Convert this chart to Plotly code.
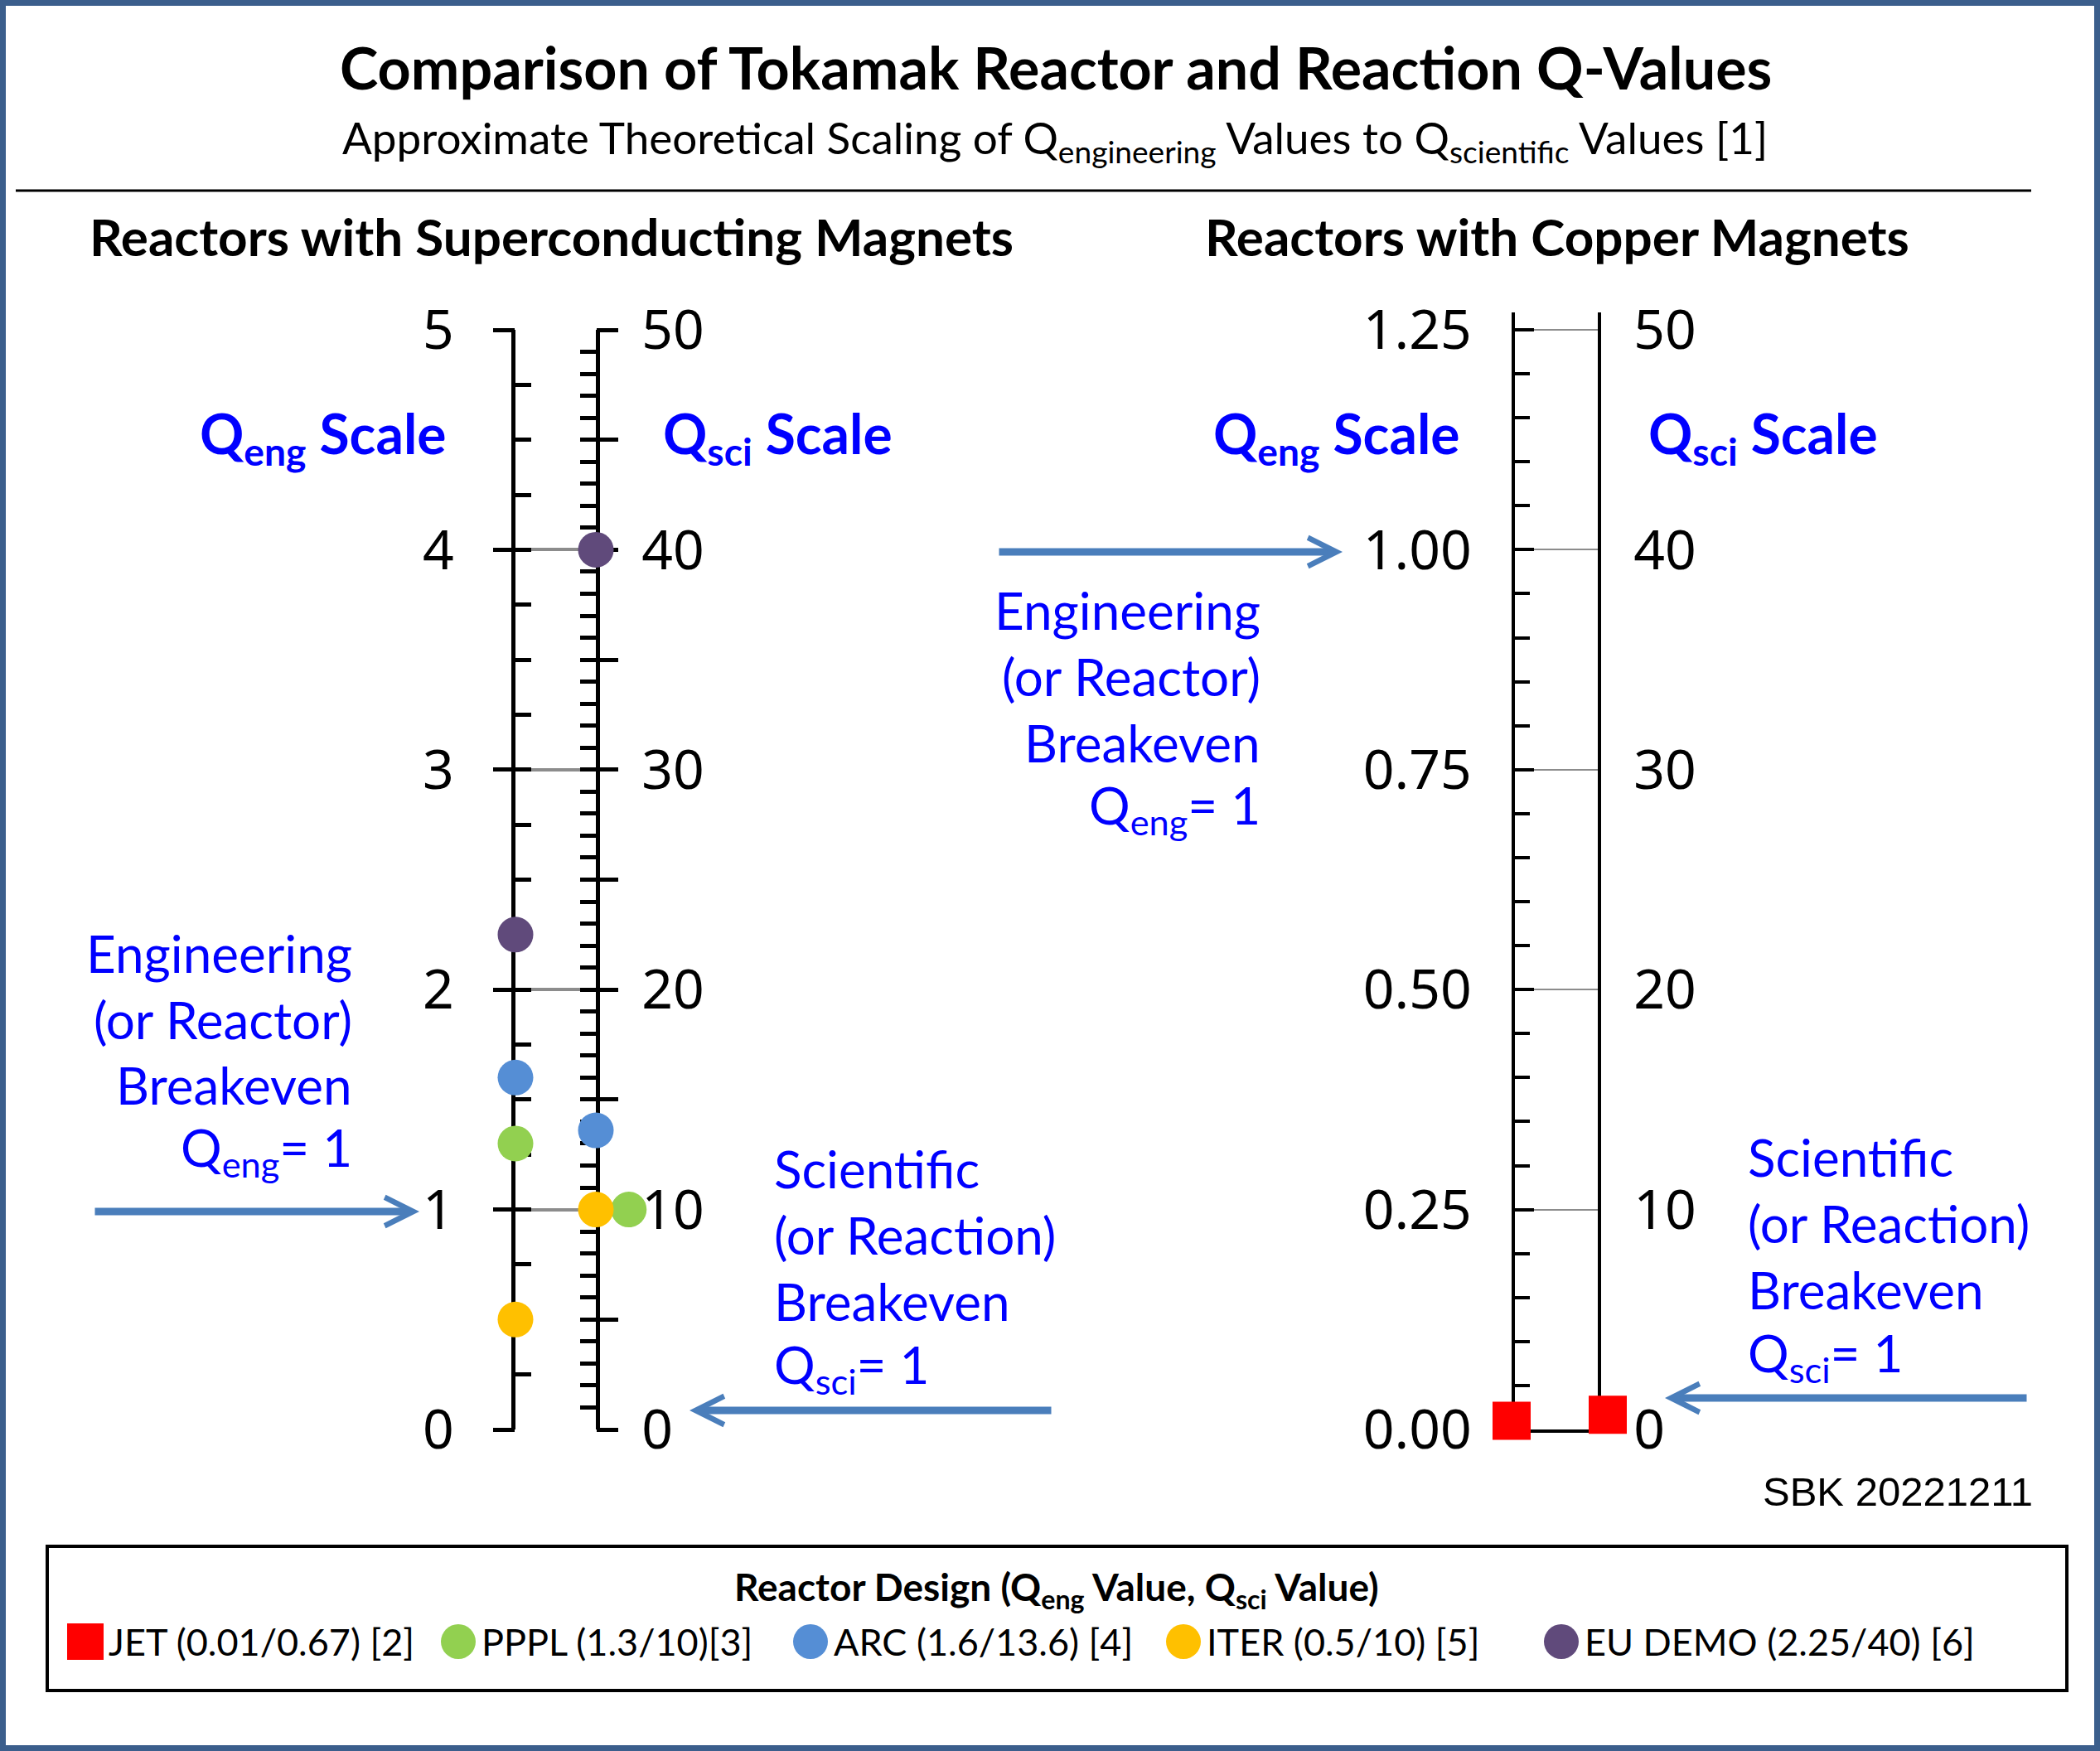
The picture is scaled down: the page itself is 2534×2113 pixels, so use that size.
import plotly.graph_objects as go

W, H = 2534, 2113

# ------------------------------------------------------------------ data
reactors = ["JET", "PPPL", "ARC", "ITER", "EU DEMO"]
q_eng = [0.01, 1.3, 1.6, 0.5, 2.25]
q_sci = [0.67, 10, 13.6, 10, 40]
magnet_type = ["copper", "superconducting", "superconducting", "superconducting", "superconducting"]
legend_labels = ["JET (0.01/0.67) [2]", "PPPL (1.3/10)[3]", "ARC (1.6/13.6) [4]",
                 "ITER (0.5/10) [5]", "EU DEMO (2.25/40) [6]"]

sc_eng_ticks = [0, 1, 2, 3, 4, 5]
sc_eng_labels = ["0", "1", "2", "3", "4", "5"]
sc_sci_ticks = [0, 10, 20, 30, 40, 50]
sc_sci_labels = ["0", "10", "20", "30", "40", "50"]
cu_eng_ticks = [0, 0.25, 0.5, 0.75, 1.0, 1.25]
cu_eng_labels = ["0.00", "0.25", "0.50", "0.75", "1.00", "1.25"]
cu_sci_ticks = [0, 10, 20, 30, 40, 50]
cu_sci_labels = ["0", "10", "20", "30", "40", "50"]

# ------------------------------------------------------------------ style / layout
COLORS = {"JET": "#FF0000", "PPPL": "#92D050", "ARC": "#558ED5",
          "ITER": "#FFC000", "EU DEMO": "#604A7B"}
SYMBOLS = {"JET": "square"}
NUDGE_ENG = {"JET": -0.04}
NUDGE_SCI = {"JET": 0.12, "PPPL": 0.41}
BLUE = "#0000FF"
ARROW = "#4A7EBB"
FONT = "Lato"
TICKFONT = "Noto Sans"
GRID = "#8C8C8C"
CIRCLE_SIZE, SQUARE_SIZE = 43, 46

# ruler geometry in pixels
SC_L, SC_R = 622, 719       # superconducting ruler: left / right spine
CU_L, CU_R = 1828, 1928     # copper ruler
Y_ZERO, Y_TOP_TICK = 1725, 398
CU_TOP = 1.27               # copper axis runs a little above 1.25


def px(x):
    return x / W


def py(y):
    return 1 - y / H


sc_dom = [py(Y_ZERO), py(Y_TOP_TICK)]
cu_top_px = Y_ZERO - (Y_ZERO - Y_TOP_TICK) * CU_TOP / cu_eng_ticks[-1]
cu_dom = [py(Y_ZERO), py(cu_top_px)]
sc_ratio = sc_sci_ticks[-1] / sc_eng_ticks[-1]
cu_ratio = cu_sci_ticks[-1] / cu_eng_ticks[-1]


def marker_xrange(dom_l, dom_r, spine_l, spine_r):
    w = spine_r - spine_l
    return [(dom_l - spine_l) / w, (dom_r - spine_l) / w]


SC_MDOM = (540, 820)
CU_MDOM = (1760, 2010)

fig = go.Figure()

# ------------------------------------------------------------------ data marks
for i, name in enumerate(reactors):
    if magnet_type[i] == "superconducting":
        xa, ya_e, ya_s = "x4", "y8", "y9"
    else:
        xa, ya_e, ya_s = "x5", "y10", "y11"
    sym = SYMBOLS.get(name, "circle")
    size = SQUARE_SIZE if sym == "square" else CIRCLE_SIZE
    mk = dict(color=COLORS[name], size=size, symbol=sym, opacity=1, line=dict(width=0))
    fig.add_trace(go.Scatter(
        x=[0 + NUDGE_ENG.get(name, 0)], y=[q_eng[i]], xaxis=xa, yaxis=ya_e,
        mode="markers", name=name, showlegend=False, cliponaxis=False, marker=mk))
    fig.add_trace(go.Scatter(
        x=[1 + NUDGE_SCI.get(name, 0)], y=[q_sci[i]], xaxis=xa, yaxis=ya_s,
        mode="markers", name=name, showlegend=False, cliponaxis=False, marker=mk))

# empty traces so that the ruler axes get their subplots
for xa, ya in [("x", "y"), ("x", "y2"), ("x", "y3"), ("x", "y4"), ("x2", "y5"), ("x2", "y6")]:
    fig.add_trace(go.Scatter(x=[None], y=[None], xaxis=xa, yaxis=ya, showlegend=False))

# custom legend keys (drawn on a pixel-space helper axis)
LEG_KEY_X = [103, 553, 978, 1428, 1884]
LEG_Y = 1981
fig.add_trace(go.Scatter(
    x=LEG_KEY_X, y=[LEG_Y] * len(reactors), xaxis="x3", yaxis="y7",
    mode="markers", showlegend=False,
    marker=dict(color=[COLORS[n] for n in reactors],
                symbol=[SYMBOLS.get(n, "circle") for n in reactors],
                size=[44 if SYMBOLS.get(n) == "square" else 42 for n in reactors],
                opacity=1, line=dict(width=0))))

tickfont = dict(family=TICKFONT, size=66, color="black")
off = dict(showgrid=False, zeroline=False, fixedrange=True, automargin=False)
hidden = dict(visible=False, **off)

fig.update_layout(
    template="none",
    width=W, height=H, autosize=False,
    margin=dict(l=0, r=0, t=0, b=0, pad=0, autoexpand=False),
    paper_bgcolor="white", plot_bgcolor="rgba(0,0,0,0)",
    showlegend=False, hovermode=False,
    # ---------------- superconducting ruler
    xaxis=dict(domain=[px(SC_L), px(SC_R)], range=[0, 1], anchor="y", **hidden),
    yaxis=dict(domain=sc_dom, range=[0, sc_eng_ticks[-1]], anchor="x", side="left",
               showline=True, linecolor="black", linewidth=5,
               tickmode="array", tickvals=sc_eng_ticks, ticktext=sc_eng_labels,
               ticks="inside", ticklen=19, tickwidth=5, tickcolor="black",
               tickfont=tickfont, ticklabelstandoff=56,
               showgrid=True, gridcolor=GRID, gridwidth=4, zeroline=False,
               minor=dict(tick0=0, dtick=0.25, ticks="inside", ticklen=19, tickwidth=5,
                          tickcolor="black", showgrid=False),
               layer="below traces", fixedrange=True, automargin=False),
    yaxis3=dict(overlaying="y", anchor="x", side="left", range=[0, sc_eng_ticks[-1]],
                tickmode="array", tickvals=sc_eng_ticks, ticks="outside", ticklen=26,
                tickwidth=5, tickcolor="black", showticklabels=False, showline=False,
                layer="below traces", **off),
    yaxis2=dict(overlaying="y", anchor="x", side="right", range=[0, sc_eng_ticks[-1] * sc_ratio],
                showline=True, linecolor="black", linewidth=5,
                tickmode="array", tickvals=sc_sci_ticks, ticktext=sc_sci_labels,
                ticks="inside", ticklen=19, tickwidth=5, tickcolor="black",
                tickfont=tickfont, ticklabelstandoff=37,
                minor=dict(tick0=0, dtick=1, ticks="inside", ticklen=19, tickwidth=5,
                           tickcolor="black", showgrid=False),
                layer="below traces", **off),
    yaxis4=dict(overlaying="y", anchor="x", side="right", range=[0, sc_eng_ticks[-1] * sc_ratio],
                tickmode="linear", tick0=0, dtick=5, ticks="outside", ticklen=26,
                tickwidth=5, tickcolor="black", showticklabels=False, showline=False,
                layer="below traces", **off),
    # ---------------- copper ruler
    xaxis2=dict(domain=[px(CU_L), px(CU_R)], range=[0, 1], anchor="y5",
                showline=True, linecolor="black", linewidth=4, ticks="", showticklabels=False,
                layer="below traces", **off),
    yaxis5=dict(domain=cu_dom, range=[0, CU_TOP], anchor="x2", side="left",
                showline=True, linecolor="black", linewidth=4,
                tickmode="array", tickvals=cu_eng_ticks, ticktext=cu_eng_labels,
                ticks="inside", ticklen=23, tickwidth=4, tickcolor="black",
                tickfont=tickfont, ticklabelstandoff=35,
                showgrid=True, gridcolor=GRID, gridwidth=2, zeroline=False,
                minor=dict(tick0=0, dtick=0.05, ticks="inside", ticklen=18, tickwidth=4,
                           tickcolor="black", showgrid=False),
                layer="below traces", fixedrange=True, automargin=False),
    yaxis6=dict(overlaying="y5", anchor="x2", side="right", range=[0, CU_TOP * cu_ratio],
                showline=True, linecolor="black", linewidth=4,
                tickmode="array", tickvals=cu_sci_ticks, ticktext=cu_sci_labels, ticks="",
                tickfont=tickfont, ticklabelstandoff=26,
                layer="below traces", **off),
    # ---------------- marker subplots (same vertical scales as the rulers)
    xaxis4=dict(domain=[px(SC_MDOM[0]), px(SC_MDOM[1])],
                range=marker_xrange(SC_MDOM[0], SC_MDOM[1], SC_L, SC_R), anchor="y8", **hidden),
    yaxis8=dict(domain=sc_dom, range=[0, sc_eng_ticks[-1]], anchor="x4", **hidden),
    yaxis9=dict(domain=sc_dom, range=[0, sc_eng_ticks[-1] * sc_ratio], anchor="x4",
                overlaying="y8", side="right", **hidden),
    xaxis5=dict(domain=[px(CU_MDOM[0]), px(CU_MDOM[1])],
                range=marker_xrange(CU_MDOM[0], CU_MDOM[1], CU_L, CU_R), anchor="y10", **hidden),
    yaxis10=dict(domain=cu_dom, range=[0, CU_TOP], anchor="x5", **hidden),
    yaxis11=dict(domain=cu_dom, range=[0, CU_TOP * cu_ratio], anchor="x5",
                 overlaying="y10", side="right", **hidden),
    # ---------------- pixel helper axis for the legend box
    xaxis3=dict(domain=[0, 1], range=[0, W], anchor="y7", **hidden),
    yaxis7=dict(domain=[0, 1], range=[H, 0], anchor="x3", **hidden),
)

# ------------------------------------------------------------------ shapes
shapes = [
    dict(type="rect", xref="paper", yref="paper", x0=px(3.5), x1=px(W - 3.5), y0=py(H - 3.5), y1=py(3.5),
         line=dict(color="#3B5E8C", width=7), layer="above"),
    dict(type="line", xref="paper", yref="paper", x0=px(19), x1=px(2451), y0=py(230), y1=py(230),
         line=dict(color="black", width=3)),
    dict(type="rect", xref="paper", yref="paper", x0=px(57), x1=px(2494), y0=py(2040), y1=py(1866),
         line=dict(color="black", width=4)),
]
fig.update_layout(shapes=shapes)


# ------------------------------------------------------------------ text
def note(text, x, y, size, color="black", xanchor="center", family=FONT):
    fig.add_annotation(text=text, x=px(x), y=py(y), xref="paper", yref="paper",
                       showarrow=False, xanchor=xanchor, yanchor="middle",
                       font=dict(family=family, size=size, color=color))


def block(lines, x, y0, step, size, xanchor):
    for k, t in enumerate(lines):
        note(t, x, y0 + k * step, size, BLUE, xanchor)


note("<b>Comparison of Tokamak Reactor and Reaction Q-Values</b>", 1274, 81, 70)
note("Approximate Theoretical Scaling of Q<sub>engineering</sub> Values to "
     "Q<sub>scientific</sub> Values [1]", 1273, 170, 53)
note("<b>Reactors with Superconducting Magnets</b>", 106, 285, 62, xanchor="left")
note("<b>Reactors with Copper Magnets</b>", 1452, 285, 62, xanchor="left")

note("<b>Q<sub>eng</sub> Scale</b>", 390, 527, 66, BLUE)
note("<b>Q<sub>sci</sub> Scale</b>", 938, 527, 66, BLUE)
note("<b>Q<sub>eng</sub> Scale</b>", 1613, 527, 66, BLUE)
note("<b>Q<sub>sci</sub> Scale</b>", 2127, 527, 66, BLUE)

eng_lines = ["Engineering", "(or Reactor)", "Breakeven", "Q<sub>eng</sub>= 1"]
sci_lines = ["Scientific", "(or Reaction)", "Breakeven", "Q<sub>sci</sub>= 1"]
block(eng_lines, 427, 1150, 79.5, 62, "right")
block(eng_lines, 1523, 736, 80, 62, "right")
block(sci_lines, 932, 1410, 80, 62, "left")
block(sci_lines, 2107, 1396, 80, 62, "left")

note("SBK 20221211", 2455, 1800, 49, xanchor="right", family="Liberation Sans")

note("<b>Reactor Design (Q<sub>eng</sub> Value, Q<sub>sci</sub> Value)</b>", 1275, 1918, 46)
for kx, lab in zip(LEG_KEY_X, legend_labels):
    note(lab, kx + 26, LEG_Y, 45, xanchor="left")

# ------------------------------------------------------------------ arrows
for tip_x, tip_y, tail_x in [(506, 1462, 113), (1620, 666, 1204), (832, 1702, 1270), (2009, 1687, 2447)]:
    fig.add_annotation(text="", x=px(tip_x), y=py(tip_y), xref="paper", yref="paper",
                       ax=tail_x - tip_x, ay=0, showarrow=True, arrowhead=5, arrowsize=0.75,
                       arrowwidth=9, arrowcolor=ARROW, standoff=0)

fig.write_html("out.html", config={"displayModeBar": False},
               post_script="document.body.style.margin='0';document.body.style.overflow='hidden';")
